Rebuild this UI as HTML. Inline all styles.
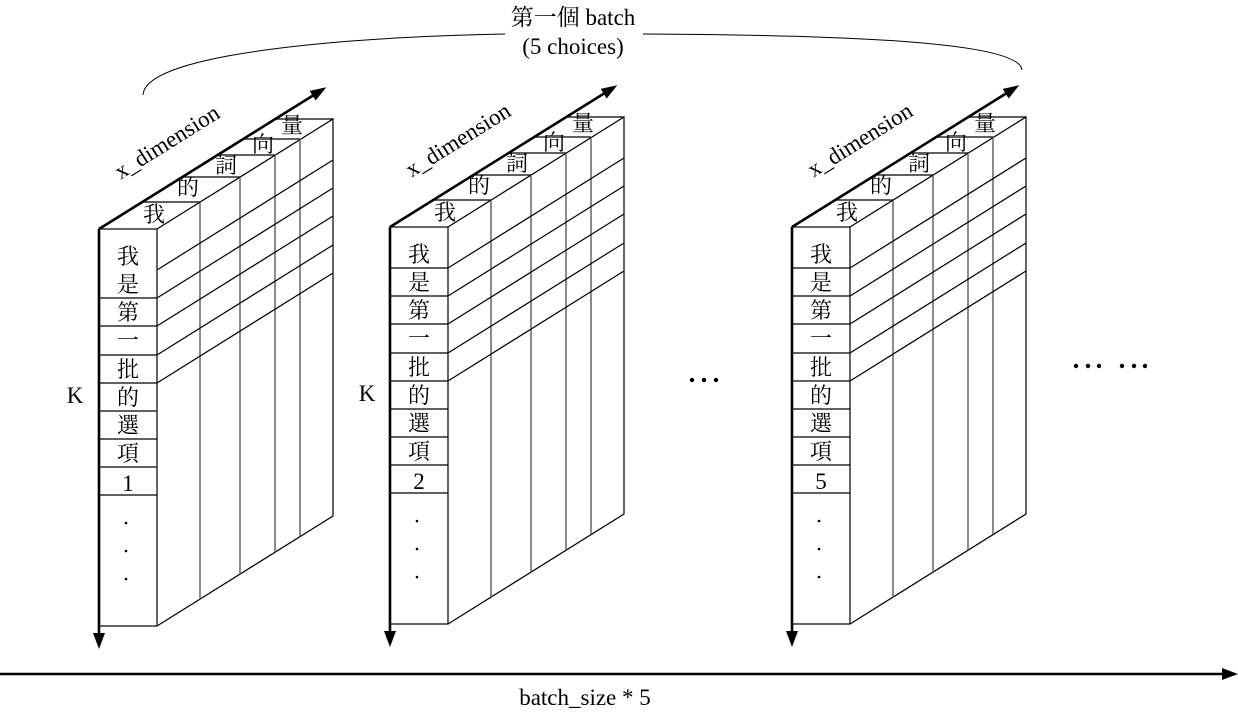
<!DOCTYPE html>
<html><head><meta charset="utf-8"><style>
html,body{margin:0;padding:0;background:#fff;}
svg{display:block;}
text{font-family:"Liberation Serif","Noto Serif CJK SC","Noto Sans CJK TC",serif;font-size:22px;fill:#000;}
.lat{font-size:23px;}
</style></head><body>
<svg width="1238" height="713" viewBox="0 0 1238 713" xmlns="http://www.w3.org/2000/svg">
<defs>
<g id="blk">
  <rect x="0" y="0" width="58" height="397" fill="none" stroke="#000" stroke-width="1.2"/>
  <polyline points="58,0 234,-110 234,287 58,397" fill="none" stroke="#000" stroke-width="1.2"/>
  <g stroke="#666" stroke-width="1.5">
    <line x1="101" y1="-27" x2="101" y2="370"/>
    <line x1="141" y1="-52" x2="141" y2="345"/>
    <line x1="176" y1="-74" x2="176" y2="323"/>
    <line x1="201" y1="-90" x2="201" y2="307"/>
  </g>
  <g stroke="#000" stroke-width="1.2">
    <line x1="43" y1="-27" x2="101" y2="-27"/>
    <line x1="83" y1="-52" x2="141" y2="-52"/>
    <line x1="119" y1="-74" x2="176" y2="-74"/>
    <line x1="144" y1="-90" x2="201" y2="-90"/>
    <line x1="176" y1="-110" x2="234" y2="-110"/>
    <line x1="58" y1="41" x2="234" y2="-69"/>
    <line x1="58" y1="69" x2="234" y2="-41"/>
    <line x1="58" y1="97" x2="234" y2="-13"/>
    <line x1="58" y1="126" x2="234" y2="16"/>
    <line x1="58" y1="154" x2="234" y2="44"/>
    <line x1="0" y1="69" x2="58" y2="69"/>
    <line x1="0" y1="97" x2="58" y2="97"/>
    <line x1="0" y1="126" x2="58" y2="126"/>
    <line x1="0" y1="154" x2="58" y2="154"/>
    <line x1="0" y1="182" x2="58" y2="182"/>
    <line x1="0" y1="210" x2="58" y2="210"/>
    <line x1="0" y1="238" x2="58" y2="238"/>
    <line x1="0" y1="266" x2="58" y2="266"/>
  </g>
  <line x1="0" y1="0" x2="218" y2="-136" stroke="#000" stroke-width="2.6"/>
  <polygon points="226,-141 216.7,-129.4 211.5,-137.8" fill="#000" stroke="#000" stroke-width="1"/>
  <line x1="0" y1="0" x2="0" y2="408" stroke="#000" stroke-width="2.6"/>
  <polygon points="-6,404 6,404 0,420" fill="#000"/>
  <g text-anchor="middle">
    <text x="29" y="35">我</text>
    <text x="29" y="63">是</text>
    <text x="29" y="91">第</text>
    <text x="29" y="119">一</text>
    <text x="29" y="148">批</text>
    <text x="29" y="176">的</text>
    <text x="29" y="204">選</text>
    <text x="29" y="232">項</text>
    <text x="55" y="-7">我</text>
    <text x="89" y="-34">的</text>
    <text x="127" y="-56">詞</text>
    <text x="164" y="-77">向</text>
    <text x="193" y="-96">量</text>
    <text class="lat" x="0" y="0" transform="translate(73,-79) rotate(-32)" dy="-2">x_dimension</text>
  </g>
  <g fill="#000">
    <circle cx="27" cy="294" r="1.3"/>
    <circle cx="27" cy="322" r="1.3"/>
    <circle cx="27" cy="350" r="1.3"/>
  </g>
</g>
</defs>

<g transform="translate(99,229)">
  <use href="#blk"/>
  <text class="lat" x="29" y="262" text-anchor="middle">1</text>
</g>
<g transform="translate(390,227)">
  <use href="#blk"/>
  <line x1="0" y1="41" x2="58" y2="41" stroke="#000" stroke-width="1.2"/>
  <text class="lat" x="29" y="262" text-anchor="middle">2</text>
</g>
<g transform="translate(792,227)">
  <use href="#blk"/>
  <line x1="0" y1="41" x2="58" y2="41" stroke="#000" stroke-width="1.2"/>
  <text class="lat" x="29" y="262" text-anchor="middle">5</text>
</g>

<text class="lat" x="75" y="403" text-anchor="middle">K</text>
<text class="lat" x="367" y="401" text-anchor="middle">K</text>

<path d="M143,95 C145,50 380,36 505,34" fill="none" stroke="#000" stroke-width="1"/>
<path d="M643,34 C850,35 1020,42 1022,70" fill="none" stroke="#000" stroke-width="1"/>
<text class="lat" x="573" y="25" text-anchor="middle">第一個 batch</text>
<text class="lat" x="573" y="54" text-anchor="middle">(5 choices)</text>

<g fill="#000">
  <circle cx="692" cy="380" r="2.2"/><circle cx="704" cy="380" r="2.2"/><circle cx="716" cy="380" r="2.2"/>
  <circle cx="1076" cy="366" r="2.2"/><circle cx="1088" cy="366" r="2.2"/><circle cx="1099" cy="366" r="2.2"/>
  <circle cx="1122" cy="366" r="2.2"/><circle cx="1134" cy="366" r="2.2"/><circle cx="1145" cy="366" r="2.2"/>
</g>

<line x1="0" y1="674" x2="1224" y2="674" stroke="#000" stroke-width="2.6"/>
<polygon points="1222,668 1238,674 1222,680" fill="#000"/>
<text class="lat" x="585" y="705" text-anchor="middle">batch_size * 5</text>
</svg>
</body></html>
